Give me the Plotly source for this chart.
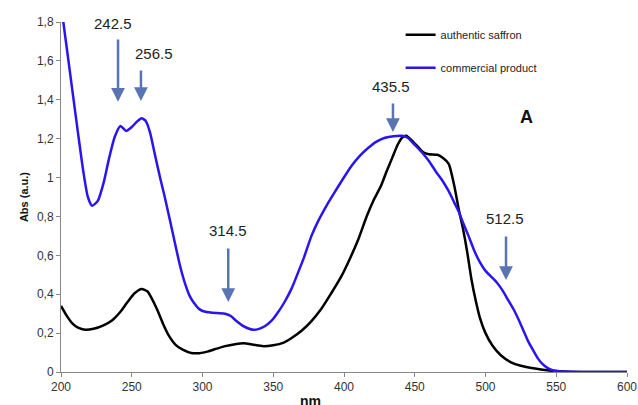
import plotly.graph_objects as go

# ---- data ----
saffron_nm = [200, 204, 208, 212, 217, 223, 230, 236, 242, 247, 252, 257, 261, 264, 268, 272, 276, 281,
              286, 292, 298, 304, 310, 316, 323, 329, 336, 343, 350, 357, 363, 370, 377, 384, 391, 398,
              404, 410, 416, 421, 426, 430, 434, 438, 441, 444, 448, 452, 456, 460, 466, 470, 474, 478,
              481, 484, 487, 490, 493, 496, 500, 505, 511, 518, 525, 535, 545, 555, 570, 600]
saffron_abs = [0.34, 0.29, 0.25, 0.228, 0.217, 0.222, 0.24, 0.265, 0.31, 0.36, 0.405, 0.427, 0.415, 0.38,
               0.32, 0.25, 0.19, 0.14, 0.115, 0.098, 0.097, 0.106, 0.12, 0.133, 0.143, 0.148, 0.14, 0.133,
               0.138, 0.15, 0.175, 0.212, 0.262, 0.325, 0.405, 0.49, 0.58, 0.68, 0.80, 0.885, 0.955, 1.03,
               1.10, 1.17, 1.205, 1.215, 1.19, 1.16, 1.13, 1.12, 1.117, 1.10, 1.07, 0.955, 0.84, 0.74,
               0.62, 0.48, 0.37, 0.28, 0.20, 0.135, 0.085, 0.05, 0.032, 0.018, 0.008, 0.003, 0.0, 0.0]

commercial_nm = [200, 204, 208, 212, 216, 219, 222, 226, 230, 234, 238, 242, 246, 250, 254, 257, 260, 263,
                 266, 270, 273, 277, 280, 284, 287, 291, 294, 298, 302, 310, 316, 320, 324, 328, 332, 336,
                 340, 344, 349, 353, 358, 363, 368, 372, 377, 382, 388, 393, 399, 405, 411, 417, 423, 429,
                 435, 441, 445, 450, 455, 460, 465, 469, 474, 478, 481, 484, 488, 492, 496, 500, 504, 508,
                 512, 516, 520, 524, 527, 530, 533, 537, 540, 544, 548, 555, 570, 600]
commercial_abs = [1.89, 1.67, 1.45, 1.23, 1.02, 0.90, 0.855, 0.88, 0.97, 1.10, 1.21, 1.265, 1.24, 1.26,
                  1.29, 1.305, 1.29, 1.23, 1.13, 1.0, 0.91, 0.78, 0.68, 0.55, 0.47, 0.39, 0.355, 0.322,
                  0.31, 0.303, 0.30, 0.288, 0.262, 0.24, 0.225, 0.217, 0.222, 0.235, 0.265, 0.303, 0.36,
                  0.43, 0.52, 0.595, 0.70, 0.78, 0.86, 0.92, 0.99, 1.057, 1.11, 1.152, 1.185, 1.205,
                  1.213, 1.215, 1.205, 1.168, 1.13, 1.085, 1.03, 0.99, 0.93, 0.87, 0.825, 0.77, 0.70,
                  0.625, 0.565, 0.52, 0.49, 0.46, 0.42, 0.37, 0.32, 0.26, 0.21, 0.16, 0.12, 0.07,
                  0.043, 0.02, 0.008, 0.002, 0.0, 0.0]

x_ticks = [200, 250, 300, 350, 400, 450, 500, 550, 600]
y_ticks = [0, 0.2, 0.4, 0.6, 0.8, 1.0, 1.2, 1.4, 1.6, 1.8]
y_tick_labels = ["0", "0,2", "0,4", "0,6", "0,8", "1", "1,2", "1,4", "1,6", "1,8"]

peak_labels = ["242.5", "256.5", "314.5", "435.5", "512.5"]
arrow_x = [240.3, 256.5, 318.2, 434.6, 514.5]
arrow_tip_y = [1.39, 1.394, 0.36, 1.234, 0.473]
arrow_tail_y = [1.718, 1.558, 0.643, 1.389, 0.705]
label_x = [236.7, 265.7, 318.0, 433.2, 513.8]
label_y = [1.79, 1.64, 0.73, 1.466, 0.792]

ARROW = "#5874b2"
FONT = "Liberation Sans, Arial, sans-serif"

fig = go.Figure()
fig.add_trace(go.Scatter(x=saffron_nm, y=saffron_abs, mode="lines", name="authentic saffron",
                         line=dict(color="#000000", width=2.5, shape="spline", smoothing=0.6),
                         legendgroup="a"))
fig.add_trace(go.Scatter(x=commercial_nm, y=commercial_abs, mode="lines", name="commercial product",
                         line=dict(color="#2a14f0", width=2.5, shape="spline", smoothing=0.6),
                         legendgroup="b"))

annotations = []
for ax_, tip, tail in zip(arrow_x, arrow_tip_y, arrow_tail_y):
    annotations.append(dict(x=ax_, y=tip, xref="x", yref="y", ax=ax_, ay=tail, axref="x", ayref="y",
                            text="", showarrow=True, arrowhead=2, arrowsize=1.1, arrowwidth=2.5,
                            arrowcolor=ARROW, standoff=0))
for t, lx, ly in zip(peak_labels, label_x, label_y):
    annotations.append(dict(x=lx, y=ly, xref="x", yref="y", text=t, showarrow=False,
                            font=dict(family=FONT, size=15, color="#222222"),
                            xanchor="center", yanchor="middle"))
annotations.append(dict(x=529.3, y=1.31, xref="x", yref="y", text="<b>A</b>", showarrow=False,
                        font=dict(family=FONT, size=18, color="#111111"),
                        xanchor="center", yanchor="middle"))
annotations.append(dict(x=0.44, y=-0.055, xref="paper", yref="paper", text="<b>nm</b>", showarrow=False,
                        font=dict(family=FONT, size=14, color="#111111"),
                        xanchor="center", yanchor="top"))

fig.update_layout(
    width=638, height=405,
    margin=dict(l=61, r=11, t=22, b=33),
    paper_bgcolor="white", plot_bgcolor="white",
    font=dict(family=FONT, size=12, color="#333333"),
    showlegend=True,
    legend=dict(x=0.6, y=1.005, xanchor="left", yanchor="top", bgcolor="rgba(0,0,0,0)",
                font=dict(family=FONT, size=11, color="#222222"), tracegroupgap=14,
                traceorder="grouped", itemwidth=30),
    annotations=annotations,
    xaxis=dict(range=[200, 600], tickvals=x_ticks, ticks="outside", ticklen=4, tickcolor="#888888",
               showline=True, linecolor="#888888", linewidth=1, showgrid=False, zeroline=False,
               automargin=False, tickfont=dict(family=FONT, size=12, color="#333333")),
    yaxis=dict(range=[0, 1.8], tickvals=y_ticks, ticktext=y_tick_labels, ticks="outside", ticklen=4,
               tickcolor="#888888", showline=True, linecolor="#888888", linewidth=1, showgrid=False,
               zeroline=False, automargin=False, tickfont=dict(family=FONT, size=12, color="#333333"),
               title=dict(text="<b>Abs (a.u.)</b>", font=dict(family=FONT, size=11, color="#111111"),
                          standoff=6)),
)

fig.write_html("out.html")
